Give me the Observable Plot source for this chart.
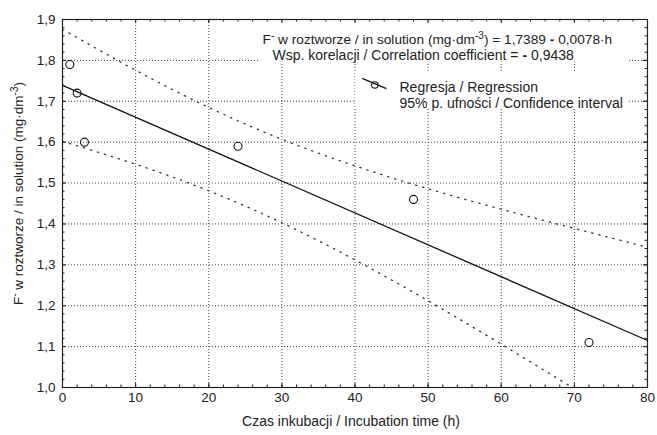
<!DOCTYPE html>
<html>
<head>
<meta charset="utf-8">
<script src="https://cdn.jsdelivr.net/npm/d3@7"></script>
<script src="https://cdn.jsdelivr.net/npm/@observablehq/plot@0.6"></script>
<style>
  body { margin: 0; background: #fff; }
</style>
</head>
<body>
<div id="chart"></div>
<script>
// Fluoride in solution vs. incubation time
const hours = [1, 2, 3, 24, 48, 72];
const fluoride = [1.79, 1.72, 1.60, 1.59, 1.46, 1.11];

// Fitted regression (as printed on the chart)
const intercept = 1.7389;
const slope = -0.0078;
const correlation = -0.9438;

// 95% confidence band
const bandHours = [0, 10, 20, 30, 40, 50, 60, 70, 80];
const bandUpper = [1.876, 1.776, 1.685, 1.607, 1.542, 1.486, 1.436, 1.389, 1.343];
const bandLower = [1.602, 1.546, 1.481, 1.403, 1.312, 1.212, 1.106, 0.997, 0.887];

// Axes
const xTicks = [0, 10, 20, 30, 40, 50, 60, 70, 80];
const yTicks = [1.0, 1.1, 1.2, 1.3, 1.4, 1.5, 1.6, 1.7, 1.8, 1.9];
const xMinor = d3.range(0, 80.001, 2);
const yMinor = d3.range(0, 46).map(i => 1.0 + i * 0.02);

const width = 657, height = 435;
const margin = {top: 19, right: 10, bottom: 48, left: 62};
const pxPerX = (width - margin.left - margin.right) / 80;
const pxPerY = (height - margin.top - margin.bottom) / 0.9;

const comma = (v, n) => v.toFixed(n).replace(".", ",");
const ink = "#222";

// ^{...} = superscript, *...* = bold
const eqText = `F^{-} w roztworze / in solution (mg·dm^{-3}) = ${comma(intercept, 4)} *-* ${comma(Math.abs(slope), 4)}·h`;
const corrText = `Wsp. korelacji / Correlation coefficient = *-* ${comma(Math.abs(correlation), 4)}`;
const yLabel = "F^{-} w roztworze / in solution (mg·dm^{-3})";
const xLabel = "Czas inkubacji / Incubation time (h)";
const legendFit = "Regresja / Regression";
const legendBand = "95% p. ufności / Confidence interval";

const points = hours.map((h, i) => ({h, f: fluoride[i]}));
const upper = bandHours.map((h, i) => ({h, v: bandUpper[i]}));
const lower = bandHours.map((h, i) => ({h, v: bandLower[i]}));

const tickMajor = 4, tickMinor = 2.5;
const grid = {stroke: "#444", strokeWidth: 1, strokeDasharray: "1,2"};
const tickStyle = {stroke: ink, strokeWidth: 1};
const label = {fontSize: 14, fill: ink};

const chart = Plot.plot({
  width, height,
  marginTop: margin.top, marginRight: margin.right,
  marginBottom: margin.bottom, marginLeft: margin.left,
  style: {fontFamily: "'Liberation Sans', Arial, Helvetica, sans-serif", fontSize: "13px", color: ink, background: "#fff"},
  x: {domain: [0, 80], axis: null},
  y: {domain: [1.0, 1.9], axis: null},
  marks: [
    // dotted grid
    Plot.ruleX(xTicks.slice(1, -1), {x: d => d, ...grid}),
    Plot.ruleY(yTicks.slice(1, -1), {y: d => d, ...grid}),

    // white panels behind the annotation text
    Plot.rect([0], {x1: 26.8, x2: 77.5, y1: 1.796, y2: 1.9, fill: "#fff"}),
    Plot.rect([0], {x1: 40.1, x2: 77.5, y1: 1.682, y2: 1.773, fill: "#fff"}),

    // confidence interval
    Plot.line(upper, {x: "h", y: "v", curve: "natural", stroke: "#333", strokeWidth: 1.3, strokeDasharray: "1.3,6", clip: true}),
    Plot.line(lower, {x: "h", y: "v", curve: "natural", stroke: "#333", strokeWidth: 1.3, strokeDasharray: "1.3,6", clip: true}),

    // regression line
    Plot.line([0, 80], {x: d => d, y: d => intercept + slope * d, stroke: "#111", strokeWidth: 1.3}),

    // observations
    Plot.dot(points, {x: "h", y: "f", r: 4, stroke: "#111", strokeWidth: 1.1, fill: "none"}),

    // frame and inward ticks
    Plot.frame({stroke: ink, strokeWidth: 1.2}),
    Plot.ruleX(xMinor, {x: d => d, y1: 1.0, y2: 1.0 + tickMinor / pxPerY, ...tickStyle}),
    Plot.ruleX(xTicks, {x: d => d, y1: 1.0, y2: 1.0 + tickMajor / pxPerY, ...tickStyle}),
    Plot.ruleX(xMinor, {x: d => d, y1: 1.9, y2: 1.9 - tickMinor / pxPerY, ...tickStyle}),
    Plot.ruleX(xTicks, {x: d => d, y1: 1.9, y2: 1.9 - tickMajor / pxPerY, ...tickStyle}),
    Plot.ruleY(yMinor, {y: d => d, x1: 0, x2: tickMinor / pxPerX, ...tickStyle}),
    Plot.ruleY(yTicks, {y: d => d, x1: 0, x2: tickMajor / pxPerX, ...tickStyle}),
    Plot.ruleY(yMinor, {y: d => d, x1: 80, x2: 80 - tickMinor / pxPerX, ...tickStyle}),
    Plot.ruleY(yTicks, {y: d => d, x1: 80, x2: 80 - tickMajor / pxPerX, ...tickStyle}),

    // tick labels
    Plot.text(xTicks, {x: d => d, frameAnchor: "bottom", dy: 14, text: d => String(d), fontSize: 13.5, fill: ink}),
    Plot.text(yTicks, {y: d => d, frameAnchor: "left", dx: -7, textAnchor: "end", text: d => comma(d, 1), fontSize: 13.5, fill: ink}),

    // axis titles
    Plot.text([xLabel], {frameAnchor: "bottom", textAnchor: "middle", dx: -4, dy: 38, ...label}),
    Plot.text([yLabel], {frameAnchor: "left", textAnchor: "middle", rotate: -90, dx: -44, dy: -10, fontSize: 13.5, fill: ink}),

    // equation and correlation
    Plot.text([eqText], {frameAnchor: "top-left", textAnchor: "start", dx: 200, dy: 14.5, fontSize: 13.7, fill: ink}),
    Plot.text([corrText], {frameAnchor: "top-left", textAnchor: "start", dx: 210, dy: 30.5, ...label}),

    // legend
    Plot.link([0], {x1: 40.99, y1: 1.756, x2: 44.3, y2: 1.731, stroke: "#111", strokeWidth: 1.3}),
    Plot.dot([0], {x: 42.71, y: 1.740, r: 3.2, stroke: "#111", strokeWidth: 1.1, fill: "none"}),
    Plot.text([legendFit], {frameAnchor: "top-left", textAnchor: "start", dx: 337, dy: 63, ...label}),
    Plot.text([legendBand], {frameAnchor: "top-left", textAnchor: "start", dx: 337, dy: 79, ...label})
  ]
});

// turn ^{..} and *..* markers into superscript / bold tspans
const SVGNS = "http://www.w3.org/2000/svg";
function richText(root) {
  root.querySelectorAll("text").forEach(t => {
    const targets = t.querySelector("tspan") ? Array.from(t.querySelectorAll("tspan")) : [t];
    targets.forEach(el => {
      const s = el.textContent;
      if (!/[\^*]/.test(s)) return;
      el.textContent = "";
      const re = /\^\{([^}]*)\}|\*([^*]*)\*|([^\^*]+)/g;
      let m, pending = 0;
      while ((m = re.exec(s))) {
        const sp = document.createElementNS(SVGNS, "tspan");
        let shift = pending;
        if (m[1] != null) {
          sp.textContent = m[1];
          sp.setAttribute("font-size", "10");
          shift += -5;
          pending = 5;
        } else {
          sp.textContent = m[2] != null ? m[2] : m[3];
          if (m[2] != null) sp.setAttribute("font-weight", "bold");
          pending = 0;
        }
        if (shift) sp.setAttribute("dy", shift);
        el.appendChild(sp);
      }
    });
  });
}

richText(chart);
document.getElementById("chart").appendChild(chart);
</script>
</body>
</html>
